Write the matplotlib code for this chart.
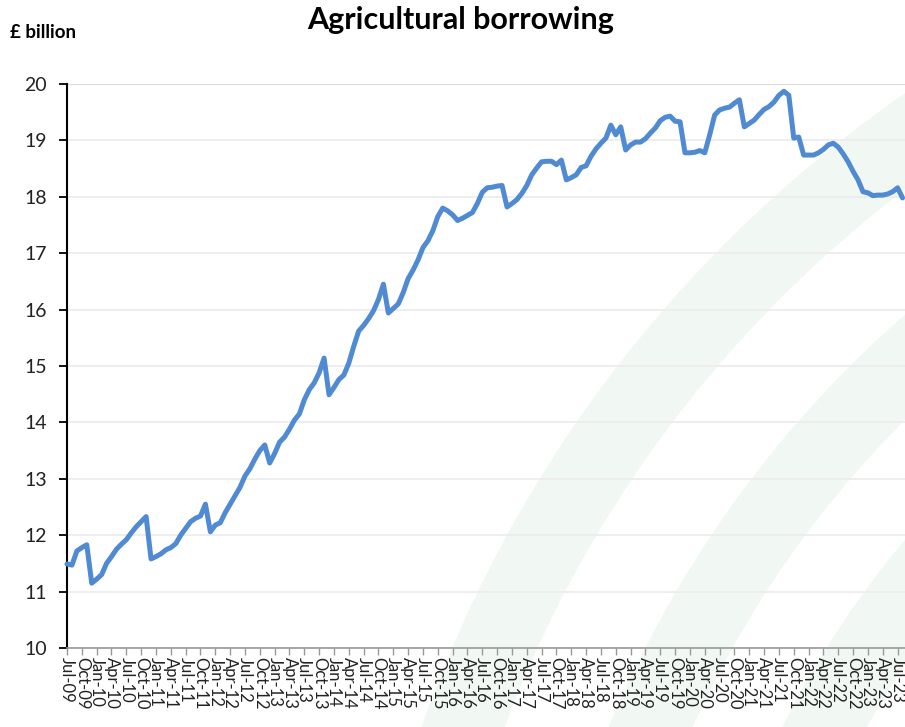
import matplotlib
matplotlib.use("Agg")
import matplotlib.pyplot as plt
from matplotlib.patches import Wedge
import pandas as pd
import numpy as np

# ---- data (GBP billion, monthly Jul-2009 .. Aug-2023) ----
start_month = "2009-07"
y2009 = [11.49, 11.47, 11.72, 11.78, 11.83, 11.15]
y2010 = [11.22, 11.30, 11.50, 11.62, 11.75, 11.84, 11.92, 12.04, 12.15, 12.24, 12.33, 11.58]
y2011 = [11.62, 11.67, 11.74, 11.78, 11.85, 12.00, 12.12, 12.24, 12.30, 12.34, 12.55, 12.06]
y2012 = [12.18, 12.22, 12.40, 12.55, 12.70, 12.85, 13.05, 13.18, 13.35, 13.50, 13.60, 13.28]
y2013 = [13.45, 13.65, 13.74, 13.88, 14.04, 14.15, 14.40, 14.58, 14.70, 14.88, 15.14, 14.49]
y2014 = [14.62, 14.76, 14.84, 15.05, 15.35, 15.62, 15.72, 15.84, 15.98, 16.18, 16.45, 15.94]
y2015 = [16.02, 16.10, 16.30, 16.55, 16.70, 16.88, 17.10, 17.22, 17.40, 17.65, 17.80, 17.75]
y2016 = [17.68, 17.58, 17.62, 17.67, 17.72, 17.88, 18.08, 18.16, 18.17, 18.19, 18.20, 17.82]
y2017 = [17.88, 17.95, 18.06, 18.20, 18.39, 18.51, 18.62, 18.63, 18.63, 18.57, 18.65, 18.30]
y2018 = [18.34, 18.39, 18.52, 18.55, 18.72, 18.85, 18.95, 19.04, 19.27, 19.10, 19.24, 18.83]
y2019 = [18.92, 18.97, 18.97, 19.03, 19.13, 19.22, 19.35, 19.41, 19.43, 19.34, 19.33, 18.78]
y2020 = [18.78, 18.79, 18.82, 18.78, 19.10, 19.45, 19.54, 19.57, 19.59, 19.66, 19.72, 19.24]
y2021 = [19.30, 19.36, 19.46, 19.55, 19.60, 19.68, 19.80, 19.87, 19.80, 19.04, 19.06, 18.74]
y2022 = [18.74, 18.74, 18.78, 18.84, 18.92, 18.95, 18.88, 18.76, 18.62, 18.45, 18.30, 18.09]
y2023 = [18.07, 18.02, 18.03, 18.03, 18.05, 18.09, 18.16, 17.98]

values = y2009 + y2010 + y2011 + y2012 + y2013 + y2014 + y2015 + y2016 + \
         y2017 + y2018 + y2019 + y2020 + y2021 + y2022 + y2023
months = pd.period_range(start_month, periods=len(values), freq="M")
month_labels = [m.strftime("%b-%y") for m in months]
tick_step = 3
y_ticks = list(range(10, 21))

title = "Agricultural borrowing"
unit_label = "£ billion"

# ---- figure ----
W, H = 905, 727
fig = plt.figure(figsize=(W / 100, H / 100), dpi=100)
fig.patch.set_facecolor("white")

# faint watermark arcs in the background (figure pixel coords)
bg = fig.add_axes([0, 0, 1, 1], zorder=-5)
bg.set_xlim(0, W)
bg.set_ylim(H, 0)
bg.axis("off")
center = (1637, 1153)
band_col = "#f1f8f3"
for r_out, r_in in [(1288, 1210), (1113, 1036), (955, 880), (790, 715)]:
    bg.add_patch(Wedge(center, r_out, 0, 360, width=r_out - r_in,
                       facecolor=band_col, edgecolor="none"))

left_px, right_px, top_px, bottom_px = 66.5, 905, 84, 648
ax = fig.add_axes([left_px / W, 1 - bottom_px / H,
                   (right_px - left_px) / W, (bottom_px - top_px) / H])
ax.set_facecolor("none")

x = np.arange(len(values))
ax.plot(x, values, color="#4f8ad2", lw=3.6, solid_joinstyle="round",
        solid_capstyle="round", zorder=3, clip_on=False)

ax.set_xlim(-0.1, 169.5)
ax.set_ylim(10, 20)

ax.set_yticks(y_ticks)
ax.set_yticklabels([str(v) for v in y_ticks], fontsize=14,
                   family=["Lato", "DejaVu Sans"], color="#222222")
ax.grid(axis="y", color="#ebebeb", lw=1.2)
ax.set_axisbelow(True)

tick_pos = x[::tick_step]
ax.set_xticks(tick_pos)
ax.set_xticklabels([month_labels[i] for i in tick_pos], rotation=-90,
                   fontsize=12, family=["Lato", "DejaVu Sans"],
                   ha="center", va="top", color="#222222")

ax.tick_params(axis="y", direction="out", length=6, width=1.3,
               color="black", pad=8)
ax.tick_params(axis="x", direction="out", length=5, width=1.0,
               color="#999999", pad=1.5)

for s in ["top", "right"]:
    ax.spines[s].set_visible(False)
ax.spines["left"].set_color("black")
ax.spines["left"].set_linewidth(1.5)
ax.spines["bottom"].set_color("#999999")
ax.spines["bottom"].set_linewidth(1.2)

# top gridline slightly darker as in reference
ax.axhline(20, color="#d9d9d9", lw=1.4, zorder=1)

fig.text(461 / W, 1 - 20 / H, title, ha="center", va="center",
         fontsize=22, fontweight="bold", family=["Lato", "DejaVu Sans"])
fig.text(10 / W, 1 - 33 / H, unit_label, ha="left", va="center",
         fontsize=13.5, fontweight="bold", family=["Lato", "DejaVu Sans"])

fig.savefig("out.png", dpi=100, facecolor="white")
